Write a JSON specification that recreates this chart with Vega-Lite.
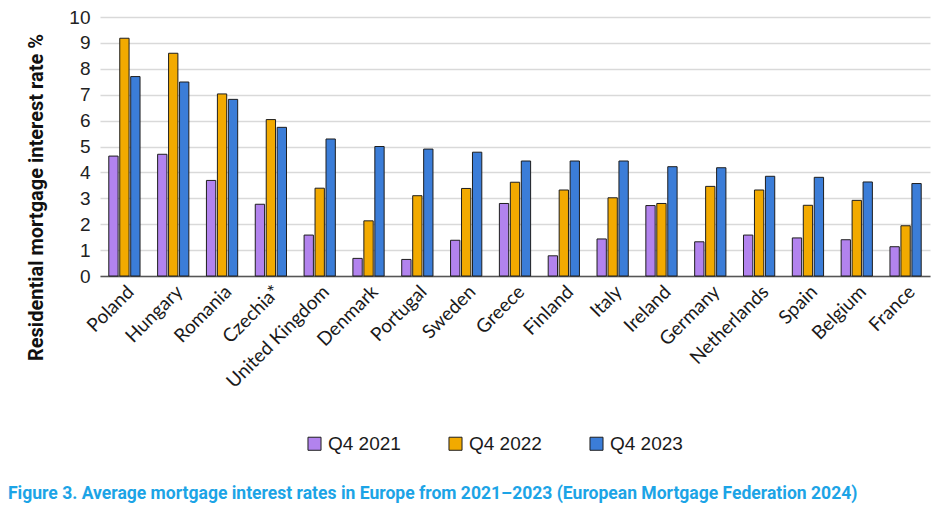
{
  "$schema": "https://vega.github.io/schema/vega-lite/v6.json",
  "autosize": {"type": "none"},
  "width": 830,
  "height": 259,
  "padding": {"left": 100, "top": 17, "right": 6, "bottom": 230},
  "background": "white",
  "title": {
    "text": "Figure 3. Average mortgage interest rates in Europe from 2021–2023 (European Mortgage Federation 2024)",
    "orient": "bottom",
    "anchor": "start",
    "font": "Roboto",
    "fontSize": 17.55,
    "fontWeight": "bold",
    "color": "#1CA4E6",
    "offset": 31,
    "dx": -18
  },
  "data": {
    "values": [
      {"country": "Poland", "period": "Q4 2021", "rate": 4.63},
      {"country": "Poland", "period": "Q4 2022", "rate": 9.18},
      {"country": "Poland", "period": "Q4 2023", "rate": 7.70},
      {"country": "Hungary", "period": "Q4 2021", "rate": 4.70},
      {"country": "Hungary", "period": "Q4 2022", "rate": 8.60},
      {"country": "Hungary", "period": "Q4 2023", "rate": 7.49},
      {"country": "Romania", "period": "Q4 2021", "rate": 3.69},
      {"country": "Romania", "period": "Q4 2022", "rate": 7.03},
      {"country": "Romania", "period": "Q4 2023", "rate": 6.82},
      {"country": "Czechia*", "period": "Q4 2021", "rate": 2.77},
      {"country": "Czechia*", "period": "Q4 2022", "rate": 6.04},
      {"country": "Czechia*", "period": "Q4 2023", "rate": 5.74},
      {"country": "United Kingdom", "period": "Q4 2021", "rate": 1.58},
      {"country": "United Kingdom", "period": "Q4 2022", "rate": 3.39},
      {"country": "United Kingdom", "period": "Q4 2023", "rate": 5.29},
      {"country": "Denmark", "period": "Q4 2021", "rate": 0.68},
      {"country": "Denmark", "period": "Q4 2022", "rate": 2.13},
      {"country": "Denmark", "period": "Q4 2023", "rate": 5.00},
      {"country": "Portugal", "period": "Q4 2021", "rate": 0.64},
      {"country": "Portugal", "period": "Q4 2022", "rate": 3.10},
      {"country": "Portugal", "period": "Q4 2023", "rate": 4.90},
      {"country": "Sweden", "period": "Q4 2021", "rate": 1.38},
      {"country": "Sweden", "period": "Q4 2022", "rate": 3.38},
      {"country": "Sweden", "period": "Q4 2023", "rate": 4.78},
      {"country": "Greece", "period": "Q4 2021", "rate": 2.80},
      {"country": "Greece", "period": "Q4 2022", "rate": 3.62},
      {"country": "Greece", "period": "Q4 2023", "rate": 4.44},
      {"country": "Finland", "period": "Q4 2021", "rate": 0.78},
      {"country": "Finland", "period": "Q4 2022", "rate": 3.32},
      {"country": "Finland", "period": "Q4 2023", "rate": 4.44},
      {"country": "Italy", "period": "Q4 2021", "rate": 1.43},
      {"country": "Italy", "period": "Q4 2022", "rate": 3.02},
      {"country": "Italy", "period": "Q4 2023", "rate": 4.44},
      {"country": "Ireland", "period": "Q4 2021", "rate": 2.72},
      {"country": "Ireland", "period": "Q4 2022", "rate": 2.80},
      {"country": "Ireland", "period": "Q4 2023", "rate": 4.22},
      {"country": "Germany", "period": "Q4 2021", "rate": 1.32},
      {"country": "Germany", "period": "Q4 2022", "rate": 3.46},
      {"country": "Germany", "period": "Q4 2023", "rate": 4.18},
      {"country": "Netherlands", "period": "Q4 2021", "rate": 1.58},
      {"country": "Netherlands", "period": "Q4 2022", "rate": 3.32},
      {"country": "Netherlands", "period": "Q4 2023", "rate": 3.85},
      {"country": "Spain", "period": "Q4 2021", "rate": 1.47},
      {"country": "Spain", "period": "Q4 2022", "rate": 2.73},
      {"country": "Spain", "period": "Q4 2023", "rate": 3.81},
      {"country": "Belgium", "period": "Q4 2021", "rate": 1.40},
      {"country": "Belgium", "period": "Q4 2022", "rate": 2.92},
      {"country": "Belgium", "period": "Q4 2023", "rate": 3.63},
      {"country": "France", "period": "Q4 2021", "rate": 1.13},
      {"country": "France", "period": "Q4 2022", "rate": 1.94},
      {"country": "France", "period": "Q4 2023", "rate": 3.57}
    ]
  },
  "mark": {"type": "bar", "stroke": "#1e1e1e", "strokeWidth": 1},
  "encoding": {
    "x": {
      "field": "country",
      "type": "nominal",
      "sort": null,
      "scale": {"paddingInner": 0.36, "paddingOuter": 0.18},
      "axis": {
        "title": null,
        "labelAngle": -45,
        "labelFont": "Lato",
        "labelFontSize": 19,
        "labelColor": "#1a1a1a",
        "labelPadding": 6,
        "ticks": false,
        "domainColor": "#555555",
        "domainWidth": 1.5,
        "grid": false
      }
    },
    "xOffset": {
      "field": "period",
      "type": "nominal",
      "scale": {"paddingInner": 0.15}
    },
    "y": {
      "field": "rate",
      "type": "quantitative",
      "scale": {"domain": [0, 10], "nice": false},
      "axis": {
        "title": "Residential mortgage interest rate %",
        "titleFont": "Roboto",
        "titleFontSize": 20,
        "titleFontWeight": "bold",
        "titleColor": "#111111",
        "titleAngle": -90,
        "titleAlign": "center",
        "titleBaseline": "middle",
        "titleX": -64,
        "titleY": 180,
        "values": [0, 1, 2, 3, 4, 5, 6, 7, 8, 9, 10],
        "labelFont": "Liberation Sans",
        "labelFontSize": 19,
        "labelColor": "#222222",
        "labelPadding": 10,
        "ticks": false,
        "domain": false,
        "gridColor": "#d9d9d9",
        "gridWidth": 1.5
      }
    },
    "color": {
      "field": "period",
      "type": "nominal",
      "scale": {
        "domain": ["Q4 2021", "Q4 2022", "Q4 2023"],
        "range": ["#B283EE", "#F2AA00", "#3B7DD8"]
      },
      "legend": {
        "title": null,
        "orient": "none",
        "direction": "horizontal",
        "legendX": 205,
        "legendY": 417,
        "symbolType": "square",
        "symbolSize": 170,
        "symbolStrokeColor": "#1e1e1e",
        "symbolStrokeWidth": 1,
        "labelFont": "Liberation Sans",
        "labelFontSize": 19,
        "labelColor": "#1a1a1a",
        "labelOffset": 4,
        "columnPadding": 45
      }
    }
  },
  "config": {"view": {"stroke": null}}
}
